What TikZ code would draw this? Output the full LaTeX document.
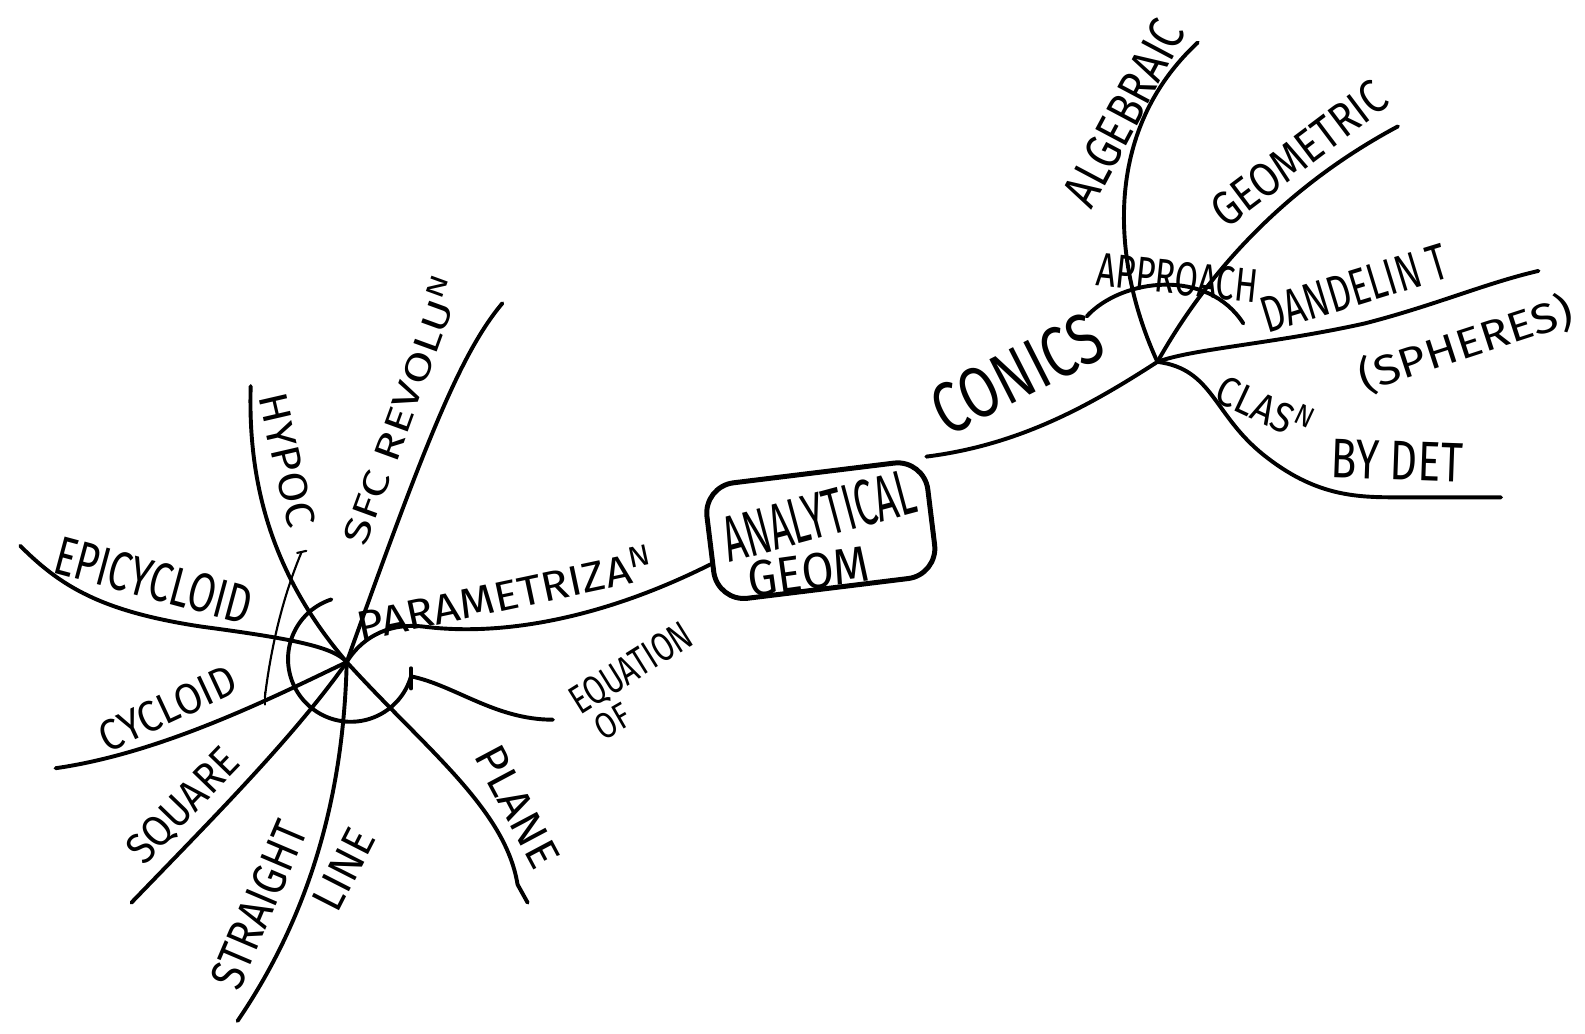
\documentclass[tikz,border=0pt]{standalone}
\usepackage{fontspec}
\setmainfont{Fira Sans}
\newcommand{\handw}[3]{\resizebox{#1cm}{#2cm}{#3}}
\begin{document}
\begin{tikzpicture}[x=0.01cm,y=-0.01cm,
  ln/.style={line width=1.1pt,line cap=round,line join=round},
  thinln/.style={line width=0.6pt,line cap=round},
  lbl/.style={inner sep=0pt}]
\useasboundingbox[fill=white] (0,0) rectangle (1568,1022);
% central box
\node[draw, line width=1.4pt, rounded corners=0.3cm, minimum width=2.2cm, minimum height=1.15cm, rotate=7] (box) at (812,525) {};
\node[lbl, rotate=15] (tA) at (810,510) {\handw{1.95}{0.45}{ANALYTICAL}};
\node[lbl, rotate=8] (tG) at (800,566) {\handw{1.2}{0.35}{GEOM}};
% hubs and free ends
\coordinate (H2) at (1145,358);
\coordinate (H1) at (343,655);
\coordinate (cc) at (347,652);
\coordinate (eAlg) at (1185,42);
\coordinate (eGeo) at (1383,125);
\coordinate (eDan) at (1522,268);
\coordinate (eCla) at (1485,492);
\coordinate (apL) at (1075,313);
\coordinate (apR) at (1230,320);
\coordinate (eEpi) at (20,540);
\coordinate (eHyp) at (248,382);
\coordinate (eSfc) at (497,300);
\coordinate (eCyc) at (55,760);
\coordinate (eSq) at (130,893);
\coordinate (eSt) at (235,1010);
\coordinate (ePl) at (522,893);
\coordinate (eEq) at (547,712);
\coordinate (thA) at (262,690);
\coordinate (thB) at (298,547);
\coordinate (arcE) at ([shift={(344:0.62cm)}]cc);
% right side
\draw[ln] (box.north east) .. controls (1010,440) and (1080,400) .. (H2);
\draw[ln] (H2) .. controls (1100,260) and (1090,130) .. (eAlg);
\draw[ln] (H2) .. controls (1200,260) and (1280,180) .. (eGeo);
\draw[ln] (apL) .. controls (1110,275) and (1195,265) .. (apR);
\draw[ln] (H2) .. controls (1180,345) and (1260,340) .. (1350,320) .. controls (1420,302) and (1470,280) .. (eDan);
\draw[ln] (H2) .. controls (1200,365) and (1200,410) .. (1250,450) .. controls (1300,490) and (1340,492) .. (1380,492) -- (eCla);
\node[lbl, rotate=27] (tCon) at (1006,370) {\handw{1.8}{0.5}{CONICS}};
\node[lbl, rotate=62] (tAlg) at (1112,112) {\handw{2.0}{0.35}{ALGEBRAIC}};
\node[lbl, rotate=37] (tGeo) at (1285,152) {\handw{2.05}{0.33}{GEOMETRIC}};
\node[lbl, rotate=-6] (tApp) at (1165,275) {\handw{1.6}{0.33}{APPROACH}};
\node[lbl, rotate=17] (tDan) at (1340,285) {\handw{1.9}{0.35}{DANDELIN T}};
\node[lbl, rotate=18] (tSph) at (1450,340) {\handw{2.2}{0.35}{(SPHERES)}};
\node[lbl, rotate=-25] (tCla) at (1252,402) {\handw{1.0}{0.35}{CLAS\textsuperscript{N}}};
\node[lbl, rotate=-2] (tBy) at (1382,456) {\handw{1.3}{0.38}{BY DET}};
% left side
\draw[ln] (box.190) .. controls (600,610) and (500,630) .. (420,620) .. controls (380,615) and (355,635) .. (H1);
\draw[ln] ([shift={(108:0.62cm)}]cc) arc[start angle=108,end angle=344,radius=0.62cm];
\draw[ln] ([yshift=0.08cm]arcE) -- ([yshift=-0.12cm]arcE);
\draw[ln] (arcE) .. controls (450,678) and (490,712) .. (eEq);
\draw[ln] (eEpi) .. controls (60,580) and (100,605) .. (200,620) .. controls (290,632) and (330,640) .. (H1);
\draw[ln] (eHyp) .. controls (245,480) and (270,570) .. (H1);
\draw[ln] (eSfc) .. controls (455,350) and (420,440) .. (H1);
\draw[ln] (H1) .. controls (270,690) and (160,745) .. (eCyc);
\draw[thinln] (thA) .. controls (268,640) and (280,590) .. (thB);
\draw[thinln] ([yshift=0.05cm]thA) -- ([yshift=-0.07cm]thA);
\draw[thinln] ([xshift=-0.04cm]thB) -- ([xshift=0.05cm,yshift=0.02cm]thB);
\draw[ln] (H1) .. controls (290,730) and (210,810) .. (eSq);
\draw[ln] (H1) .. controls (340,780) and (310,900) .. (eSt);
\draw[ln] (H1) .. controls (420,740) and (500,800) .. (512,875) -- (ePl);
\node[lbl, rotate=12] (tPar) at (500,586) {\handw{3.0}{0.35}{PARAMETRIZA\textsuperscript{N}}};
\node[lbl, rotate=32] (tEq) at (625,662) {\handw{1.35}{0.28}{EQUATION}};
\node[lbl, rotate=30] (tOf) at (606,714) {\handw{0.35}{0.25}{OF}};
\node[lbl, rotate=-15] (tEpi) at (152,574) {\handw{2.0}{0.38}{EPICYCLOID}};
\node[lbl, rotate=-77] (tHyp) at (284,455) {\handw{1.35}{0.28}{HYPOC}};
\node[lbl, rotate=70] (tSfc) at (396,405) {\handw{2.8}{0.3}{SFC REVOLU\textsuperscript{N}}};
\node[lbl, rotate=25] (tCyc) at (166,701) {\handw{1.45}{0.3}{CYCLOID}};
\node[lbl, rotate=46] (tSq) at (182,798) {\handw{1.4}{0.3}{SQUARE}};
\node[lbl, rotate=67] (tSt) at (256,895) {\handw{1.75}{0.33}{STRAIGHT}};
\node[lbl, rotate=63] (tLi) at (340,860) {\handw{0.85}{0.3}{LINE}};
\node[lbl, rotate=-62] (tPl) at (512,798) {\handw{1.3}{0.3}{PLANE}};
\end{tikzpicture}
\end{document}
